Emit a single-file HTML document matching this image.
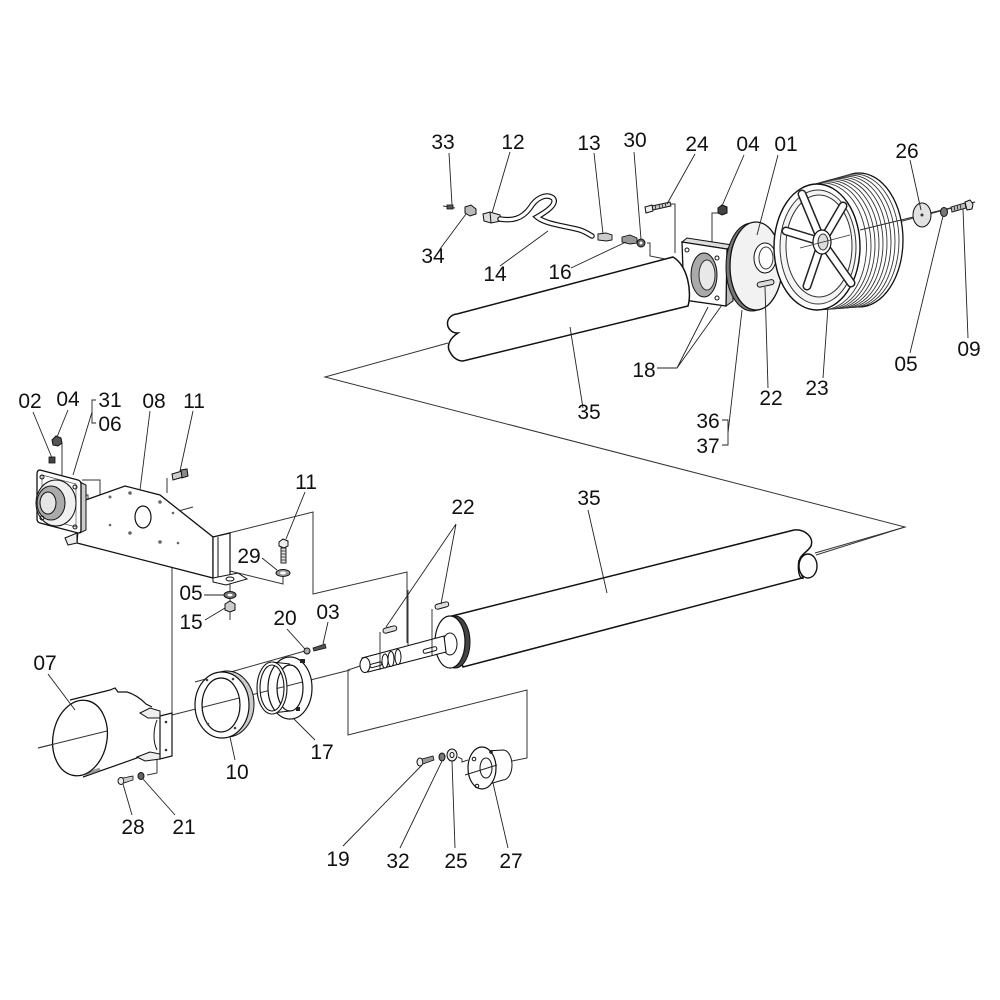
<!DOCTYPE html>
<html><head><meta charset="utf-8"><style>
html,body{margin:0;padding:0;background:#fff;}
svg{display:block}
text{font-family:"Liberation Sans",Arial,sans-serif;font-size:21px;fill:#111;text-anchor:middle}
</style></head><body>
<svg width="1000" height="1000" viewBox="0 0 1000 1000" xmlns="http://www.w3.org/2000/svg">
<rect width="1000" height="1000" fill="#fff"/>

<g fill="none" stroke="#333" stroke-width="1">
  <path d="M448,343 L325,377 L905,527 L815,553"/>
  <path d="M443,206 L455,208"/>
  <path d="M647,243 H650 V256 L665,259"/>
  <path d="M670,204 H675 V253"/>
  <path d="M718,213 H712 V243"/>
  <path d="M700,274 L975,202"/>
  <path d="M733,277 L760,283"/>
  <path d="M82,480 H100 V515 L157,502"/>
  <path d="M82,495 H88 V530 L112,525"/>
  <path d="M167,478 V493"/>
  <path d="M172,512 V715"/>
  <path d="M175,512 L193,507"/>
  <path d="M157,757 V773 L147,775"/>
  <path d="M62,443 V487"/>
  <path d="M283,577 V584 L230,571"/>
  <path d="M230,580 V620"/>
  <path d="M213,537 L313,512 V594 L407,572 V643"/>
  <path d="M363,665 L348,670 V735 L527,690 V758 L512,761"/>
  <path d="M38,748 L107,731"/>
  <path d="M168,716 L350,670"/>
  <path d="M195,682 L305,651"/>
  <path d="M458,757 L462,759 V762 L468,760"/>
</g>

<!-- TOP ASSEMBLY -->
<rect x="447" y="205" width="6" height="4" fill="#555" stroke="#111" stroke-width="0.8"/>
<polygon points="465,207 471,205 476,209 476,214 470,216 465,213" fill="#bbb" stroke="#111"/>
<path d="M483,214 L490,212 L500,215 L501,221 L491,223 L484,221 Z" fill="#ddd" stroke="#111"/>
<line x1="490" y1="212" x2="491" y2="223" stroke="#111"/>
<path d="M500,219 C512,221 522,219 530,208 C536,198 546,193 553,198 C558,204 546,212 537,217 C545,224 565,226 580,230 C586,232 590,235 592,236" fill="none" stroke="#111" stroke-width="5.5" stroke-linecap="round"/>
<path d="M500,219 C512,221 522,219 530,208 C536,198 546,193 553,198 C558,204 546,212 537,217 C545,224 565,226 580,230 C586,232 590,235 592,236" fill="none" stroke="#fff" stroke-width="3.2" stroke-linecap="round"/>
<path d="M598,234 L606,233 L612,235 L612,240 L606,241 L598,240 Z" fill="#ccc" stroke="#111" stroke-width="0.9"/>
<path d="M622,237 L630,235 L637,238 L637,243 L630,244 L622,242 Z" fill="#999" stroke="#111" stroke-width="0.9"/>
<ellipse cx="641" cy="243" rx="4" ry="4" fill="#666" stroke="#111"/>
<ellipse cx="641" cy="243" rx="1.5" ry="1.5" fill="#fff"/>
<path d="M652,206 L670,202 L671,206 L653,210 Z" fill="#ccc" stroke="#111" stroke-width="0.9"/>
<path d="M655,205 L656,210 M659,204 L660,209 M662,204 L663,208 M665,203 L666,207" stroke="#222" stroke-width="0.8"/>
<path d="M645,207 L652,205 L653,211 L646,213 Z" fill="#eee" stroke="#111"/>
<polygon points="718,208 722,205 727,207 727,213 722,215 718,213" fill="#444" stroke="#111"/>

<!-- 18 bearing flange -->
<path d="M682,242 L687,238 L732,245 L727,249 Z" fill="#ddd" stroke="#111"/>
<path d="M727,249 L732,245 L733,301 L726,306 Z" fill="#bbb" stroke="#111"/>
<path d="M682,242 L727,249 L726,306 L684,300 Z" fill="#fff" stroke="#111" stroke-width="1.3"/>
<ellipse cx="704" cy="275" rx="13" ry="22" fill="#aaa" stroke="#111"/>
<ellipse cx="707" cy="275" rx="8" ry="15" fill="#e8e8e8" stroke="#333"/>
<circle cx="687" cy="250" r="2" fill="none" stroke="#111"/>
<circle cx="717" cy="258" r="2" fill="none" stroke="#111"/>
<circle cx="717" cy="298" r="2" fill="none" stroke="#111"/>

<!-- upper shaft 35 -->
<path d="M673,257 L457,314 A10,9.5 0 1 0 458,333 C450,338 446,346 450,352 C453,358 458,361 463,361 L688,306 C692,292 688,266 673,257 Z" fill="#fff" stroke="#111" stroke-width="1.5"/>

<!-- 01 plate -->
<ellipse cx="752" cy="267" rx="26" ry="44" fill="#777" stroke="#111"/>
<ellipse cx="756" cy="266" rx="26" ry="44" fill="#f2f2f2" stroke="#111" stroke-width="1.3"/>
<ellipse cx="765" cy="258" rx="11" ry="15" fill="#fff" stroke="#111"/>
<ellipse cx="766" cy="258" rx="7" ry="11" fill="#fff" stroke="#333"/>
<rect x="757" y="281" width="17" height="5" rx="2.5" transform="rotate(-12 765 283)" fill="#ddd" stroke="#111"/>

<!-- 23 pulley -->
<g stroke="#333" stroke-width="0.9" fill="#fff">
  <ellipse cx="859" cy="240" rx="44" ry="67" stroke="#111" stroke-width="1.3"/>
  <ellipse cx="855" cy="240.7" rx="44" ry="66.6"/>
  <ellipse cx="851" cy="241.4" rx="44" ry="66.2"/>
  <ellipse cx="847" cy="242.1" rx="44" ry="65.8"/>
  <ellipse cx="843" cy="242.8" rx="44" ry="65.4"/>
  <ellipse cx="839" cy="243.5" rx="44" ry="65"/>
  <ellipse cx="835" cy="244.2" rx="44" ry="64.6"/>
  <ellipse cx="831" cy="244.9" rx="44" ry="64.2"/>
  <ellipse cx="827" cy="245.6" rx="44" ry="63.8"/>
  <ellipse cx="823" cy="246.3" rx="43.5" ry="63.4"/>
</g>
<ellipse cx="817" cy="247" rx="43" ry="63" fill="#fff" stroke="#111" stroke-width="1.4"/>
<ellipse cx="818" cy="247" rx="38" ry="57" fill="#f4f4f4" stroke="#333"/>
<ellipse cx="819" cy="246" rx="33" ry="51" fill="#fff" stroke="#333"/>
<g stroke-linecap="round">
  <g stroke="#222" stroke-width="9">
    <line x1="822" y1="242" x2="802" y2="194"/>
    <line x1="822" y1="242" x2="843" y2="206"/>
    <line x1="822" y1="242" x2="786" y2="231"/>
    <line x1="822" y1="242" x2="807" y2="286"/>
    <line x1="822" y1="242" x2="851" y2="283"/>
  </g>
  <g stroke="#fff" stroke-width="6">
    <line x1="822" y1="242" x2="802" y2="194"/>
    <line x1="822" y1="242" x2="843" y2="206"/>
    <line x1="822" y1="242" x2="786" y2="231"/>
    <line x1="822" y1="242" x2="807" y2="286"/>
    <line x1="822" y1="242" x2="851" y2="283"/>
  </g>
</g>
<ellipse cx="822" cy="242" rx="9" ry="12" fill="#fff" stroke="#111" stroke-width="1.2"/>
<ellipse cx="823" cy="242" rx="5" ry="8" fill="#ddd" stroke="#333"/>
<line x1="800" y1="248" x2="850" y2="235" stroke="#333" stroke-width="0.9"/>
<line x1="860" y1="230" x2="975" y2="202" stroke="#333" stroke-width="1"/>

<!-- 26, 05, 09 -->
<ellipse cx="922" cy="215" rx="9" ry="12" fill="#e2e2e2" stroke="#111"/>
<circle cx="922" cy="215" r="1.5" fill="#333"/>
<ellipse cx="944" cy="212" rx="3.5" ry="4.5" fill="#777" stroke="#111"/>
<path d="M951,207 L965,203 L966,208 L952,212 Z" fill="#bbb" stroke="#111" stroke-width="0.9"/>
<path d="M954,206 L955,211 M957,205 L958,210 M960,204 L961,209" stroke="#222" stroke-width="0.8"/>
<path d="M965,202 L970,200 L973,204 L972,209 L967,210 Z" fill="#ddd" stroke="#111"/>

<!-- LEFT BRACKET ASSEMBLY -->
<path d="M80,502 L125,486 L160,495 L213,537 L213,578 L77,543 Z" fill="#fff" stroke="#111" stroke-width="1.3"/>
<path d="M65,538 L77,533 L77,543 L68,545 Z" fill="#eee" stroke="#111"/>
<path d="M213,537 L230,533 L230,576 L217,579 L213,578 Z" fill="#fff" stroke="#111" stroke-width="1.2"/>
<line x1="218" y1="537" x2="218" y2="578" stroke="#111"/>
<path d="M213,578 L238,573 L247,579 L226,585 L213,582 Z" fill="#fff" stroke="#111"/>
<ellipse cx="230" cy="579" rx="4" ry="2" fill="#fff" stroke="#111"/>
<ellipse cx="143" cy="517" rx="8" ry="11" fill="#fff" stroke="#111" stroke-width="1.2"/>
<g fill="#666">
  <circle cx="110" cy="497" r="1.5"/><circle cx="130" cy="493" r="1.8"/><circle cx="160" cy="502" r="1.8"/>
  <circle cx="130" cy="533" r="1.8"/><circle cx="160" cy="542" r="1.8"/><circle cx="110" cy="525" r="1.3"/>
  <circle cx="178" cy="543" r="1.3"/><circle cx="173" cy="513" r="1.3"/>
</g>
<path d="M80,482 L86,485 L86,530 L80,533 Z" fill="#ccc" stroke="#111"/>
<path d="M40,470 L78,480 Q81,481 81,484 L81,530 Q81,533 78,533 L40,523 Q37,522 37,519 L37,474 Q37,470 40,470 Z" fill="#fff" stroke="#111" stroke-width="1.3"/>
<path d="M42,475 L76,484 L76,527 L42,518 Z" fill="none" stroke="#555" stroke-width="0.7"/>
<ellipse cx="56" cy="503" rx="20" ry="23" fill="#f0f0f0" stroke="#111"/>
<ellipse cx="51" cy="503" rx="14" ry="17" fill="#aaa" stroke="#111"/>
<ellipse cx="48" cy="503" rx="8" ry="11" fill="#e6e6e6" stroke="#111"/>
<circle cx="42" cy="477" r="2" fill="none" stroke="#111"/>
<circle cx="75" cy="487" r="2" fill="none" stroke="#111"/>
<circle cx="75" cy="527" r="2" fill="none" stroke="#111"/>
<circle cx="42" cy="518" r="2" fill="none" stroke="#111"/>
<rect x="49" y="457" width="6" height="6" fill="#444" stroke="#111" stroke-width="0.8"/>
<polygon points="52,440 56,436 61,438 62,443 58,446 53,445" fill="#555" stroke="#111"/>
<path d="M172,474 L182,471 L183,477 L173,480 Z" fill="#ccc" stroke="#111"/>
<path d="M181,470 L187,469 L188,476 L182,478 Z" fill="#888" stroke="#111"/>
<polygon points="279,542 283,539 288,541 288,546 284,548 279,546" fill="#eee" stroke="#111"/>
<rect x="281" y="548" width="5" height="15" fill="#ddd" stroke="#111" stroke-width="0.9"/>
<path d="M281,551 H286 M281,554 H286 M281,557 H286 M281,560 H286" stroke="#222" stroke-width="0.8"/>
<ellipse cx="283" cy="573" rx="7" ry="3.5" fill="#999" stroke="#111"/>
<ellipse cx="283" cy="573" rx="3" ry="1.5" fill="#fff"/>
<ellipse cx="230" cy="595" rx="6" ry="3.5" fill="#777" stroke="#111"/>
<ellipse cx="230" cy="595" rx="2.5" ry="1.3" fill="#fff"/>
<polygon points="225,604 230,601 235,604 235,610 230,612 225,610" fill="#ccc" stroke="#111"/>

<!-- LOWER SHAFT -->
<rect x="383" y="627" width="14" height="5" rx="2.5" transform="rotate(-15 390 630)" fill="#ddd" stroke="#111"/>
<rect x="435" y="603" width="14" height="5" rx="2.5" transform="rotate(-15 442 606)" fill="#ddd" stroke="#111"/>
<path d="M448,617 L794,530 C806,529 814,538 811,546 C808,552 800,554 799,562 C798,573 806,580 802,578 L463,667 Z" fill="#fff" stroke="#111" stroke-width="1.5"/>
<ellipse cx="808" cy="566" rx="9" ry="12" fill="#fff" stroke="#111" stroke-width="1.4"/>
<path d="M799,560 C797,572 800,578 802,578" fill="none" stroke="#111" stroke-width="1.4"/>
<path d="M816,555 L905,527" stroke="#333" stroke-width="1"/>
<ellipse cx="455" cy="642" rx="15" ry="26" fill="#444" stroke="#111"/>
<ellipse cx="450" cy="642" rx="15" ry="26" fill="#fff" stroke="#111" stroke-width="1.2"/>
<ellipse cx="450" cy="644" rx="7" ry="11" fill="#fff" stroke="#111"/>
<path d="M444,636 L362,658 L368,672 L446,652 Z" fill="#fff" stroke="#111" stroke-width="1.1"/>
<ellipse cx="385" cy="661" rx="3" ry="7" fill="#fff" stroke="#111"/>
<ellipse cx="391" cy="659" rx="3" ry="7.5" fill="#fff" stroke="#111"/>
<ellipse cx="398" cy="657" rx="3" ry="7.5" fill="#fff" stroke="#111"/>
<ellipse cx="365" cy="665" rx="5" ry="7.5" fill="#fff" stroke="#111"/>
<rect x="423" y="648" width="14" height="4" rx="2" transform="rotate(-15 430 650)" fill="#fff" stroke="#111"/>
<rect x="370" y="663" width="12" height="3.5" rx="1.7" transform="rotate(-15 376 665)" fill="#fff" stroke="#111"/>
<line x1="380" y1="632" x2="380" y2="670" stroke="#222" stroke-width="0.9"/>
<line x1="432" y1="609" x2="432" y2="655" stroke="#222" stroke-width="0.9"/>
<line x1="408" y1="590" x2="408" y2="645" stroke="#222" stroke-width="0.9"/>

<!-- 07 housing -->
<path d="M70,700 L110,690 L115,688 L118,692 L127,692 C134,694 141,699 146,704 L152,707 L160,713 L160,757 L152,752 L140,759 L83,777 L70,777 L55,740 Z" fill="#fff" stroke="none"/>
<path d="M70,700 L110,690 L115,688 L118,692 L127,692 C134,694 141,699 146,704 L152,707" fill="none" stroke="#111" stroke-width="1.2"/>
<path d="M83,777 L137,758 L150,752" fill="none" stroke="#111" stroke-width="1.2"/>
<path d="M86,774 L100,769" stroke="#999" stroke-width="3"/>
<path d="M157,720 C153,730 153,742 157,750" fill="none" stroke="#111"/>
<path d="M140,713 L150,708 L160,711 L160,718 L148,718 Z" fill="#eee" stroke="#111"/>
<path d="M137,757 L150,752 L160,754 L160,759 L145,761 Z" fill="#eee" stroke="#111"/>
<path d="M160,716 L172,713 L172,756 L160,759 Z" fill="#fff" stroke="#111" stroke-width="1.2"/>
<circle cx="166" cy="722" r="1.3" fill="#333"/><circle cx="166" cy="750" r="1.3" fill="#333"/>
<ellipse cx="80" cy="738" rx="27" ry="38" transform="rotate(10 80 738)" fill="#fff" stroke="#111" stroke-width="1.3"/>
<path d="M38,748 L107,731" stroke="#333" stroke-width="1"/>
<ellipse cx="121" cy="781" rx="3" ry="3.5" fill="#eee" stroke="#111"/>
<path d="M123,778 L133,776 L133,780 L124,783 Z" fill="#ccc" stroke="#111" stroke-width="0.8"/>
<ellipse cx="141" cy="776" rx="3" ry="3.5" fill="#666" stroke="#111"/>

<!-- 10 ring -->
<path d="M254,704 A27,33 0 1 0 200,704 A27,33 0 1 0 254,704 Z M240,705 A19,27 0 1 0 202,705 A19,27 0 1 0 240,705 Z" fill="#ccc" fill-rule="evenodd" stroke="#111"/>
<path d="M249,705 A27,33 0 1 0 195,705 A27,33 0 1 0 249,705 Z M240,705 A19,27 0 1 0 202,705 A19,27 0 1 0 240,705 Z" fill="#fff" fill-rule="evenodd" stroke="#111" stroke-width="1.2"/>
<g fill="#444"><circle cx="207" cy="680" r="1.3"/><circle cx="233" cy="679" r="1.3"/><circle cx="208" cy="724" r="1.3"/><circle cx="235" cy="728" r="1.3"/></g>

<!-- 17 bushing -->
<path d="M312,688 A22,31 0 1 0 268,688 A22,31 0 1 0 312,688 Z M303,688 A13,23 0 1 0 277,688 A13,23 0 1 0 303,688 Z" fill="#fff" fill-rule="evenodd" stroke="#111" stroke-width="1.2"/>
<path d="M272,662 L290,664 M272,713 L290,711" stroke="#111"/>
<path d="M287,688 A15,26 0 1 0 257,688 A15,26 0 1 0 287,688 Z M284,688 A12,23 0 1 0 260,688 A12,23 0 1 0 284,688 Z" fill="#fff" fill-rule="evenodd" stroke="#111" stroke-width="1.1"/>
<rect x="300" y="659" width="5" height="4" fill="#222"/>
<rect x="296" y="707" width="4" height="4" fill="#222"/>
<circle cx="307" cy="651" r="3" fill="#aaa" stroke="#111"/>
<path d="M313,648 L325,644 L326,648 L314,651 Z" fill="#555" stroke="#111" stroke-width="0.8"/>

<!-- 19, 32, 25, 27 -->
<ellipse cx="420" cy="762" rx="3" ry="4" fill="#eee" stroke="#111"/>
<path d="M422,759 L433,756 L434,760 L423,764 Z" fill="#999" stroke="#111" stroke-width="0.8"/>
<ellipse cx="442" cy="757" rx="3" ry="4" fill="#777" stroke="#111"/>
<ellipse cx="452" cy="755" rx="5" ry="6" fill="#eee" stroke="#111"/>
<ellipse cx="452" cy="755" rx="2" ry="2.5" fill="#fff" stroke="#111"/>
<path d="M486,751 L503,750 A9,15 0 0 1 503,780 L486,785 Z" fill="#fff" stroke="#111"/>
<ellipse cx="482" cy="768" rx="14" ry="21" fill="#fff" stroke="#111" stroke-width="1.2"/>
<ellipse cx="486" cy="768" rx="6" ry="10" fill="#fff" stroke="#111"/>
<g fill="none" stroke="#111"><circle cx="474" cy="759" r="1.8"/><circle cx="477" cy="786" r="1.8"/><circle cx="491" cy="752" r="1.3"/></g>
<line x1="465" y1="775" x2="497" y2="765" stroke="#222"/>

<!-- LEADER LINES -->
<g fill="none" stroke="#222" stroke-width="0.9">
  <path d="M449,153 L452,205"/>
  <path d="M510,152 L492,213"/>
  <path d="M440,249 L466,214"/>
  <path d="M500,266 L548,231"/>
  <path d="M594,153 L603,234"/>
  <path d="M571,268 L626,242"/>
  <path d="M634,152 L641,239"/>
  <path d="M695,154 L667,204"/>
  <path d="M744,155 L722,206"/>
  <path d="M778,155 L757,235"/>
  <path d="M910,160 L921,210"/>
  <path d="M968,338 L963,209"/>
  <path d="M910,353 L943,216"/>
  <path d="M823,378 L828,307"/>
  <path d="M768,388 L765,287"/>
  <path d="M722,420 H728 V445 H722"/>
  <path d="M728,433 L742,310"/>
  <path d="M657,368 H677 L708,307 M677,368 L722,305"/>
  <path d="M583,408 L570,327"/>
  <path d="M33,412 L52,458"/>
  <path d="M68,410 L57,437"/>
  <path d="M96,400 H92 V423 H96"/>
  <path d="M92,412 L73,475"/>
  <path d="M150,411 L140,490"/>
  <path d="M193,411 L180,471"/>
  <path d="M305,492 L286,539"/>
  <path d="M262,558 L277,570"/>
  <path d="M204,595 L224,595"/>
  <path d="M205,620 L225,608"/>
  <path d="M287,629 L305,649"/>
  <path d="M328,622 L323,644"/>
  <path d="M456,524 L386,627 M456,524 L441,604"/>
  <path d="M588,510 L607,593"/>
  <path d="M48,674 L75,710"/>
  <path d="M235,760 L230,737"/>
  <path d="M315,740 L293,718"/>
  <path d="M132,815 L123,784"/>
  <path d="M175,815 L143,779"/>
  <path d="M343,846 L422,765"/>
  <path d="M400,848 L442,761"/>
  <path d="M455,848 L452,761"/>
  <path d="M508,848 L493,783"/>
</g>

<!-- LABELS -->
<text x="443" y="149">33</text>
<text x="513" y="149">12</text>
<text x="589" y="150">13</text>
<text x="635" y="147">30</text>
<text x="697" y="151">24</text>
<text x="748" y="151">04</text>
<text x="786" y="151">01</text>
<text x="907" y="158">26</text>
<text x="433" y="263">34</text>
<text x="495" y="281">14</text>
<text x="560" y="279">16</text>
<text x="969" y="356">09</text>
<text x="906" y="371">05</text>
<text x="644" y="377">18</text>
<text x="589" y="419">35</text>
<text x="771" y="405">22</text>
<text x="817" y="395">23</text>
<text x="708" y="428">36</text>
<text x="708" y="453">37</text>
<text x="30" y="408">02</text>
<text x="68" y="406">04</text>
<text x="110" y="407">31</text>
<text x="110" y="431">06</text>
<text x="154" y="408">08</text>
<text x="194" y="408">11</text>
<text x="306" y="489">11</text>
<text x="249" y="563">29</text>
<text x="191" y="600">05</text>
<text x="191" y="629">15</text>
<text x="285" y="625">20</text>
<text x="328" y="619">03</text>
<text x="463" y="514">22</text>
<text x="589" y="505">35</text>
<text x="45" y="670">07</text>
<text x="237" y="779">10</text>
<text x="322" y="759">17</text>
<text x="133" y="834">28</text>
<text x="184" y="834">21</text>
<text x="338" y="866">19</text>
<text x="398" y="868">32</text>
<text x="456" y="868">25</text>
<text x="511" y="868">27</text>
</svg>
</body></html>
